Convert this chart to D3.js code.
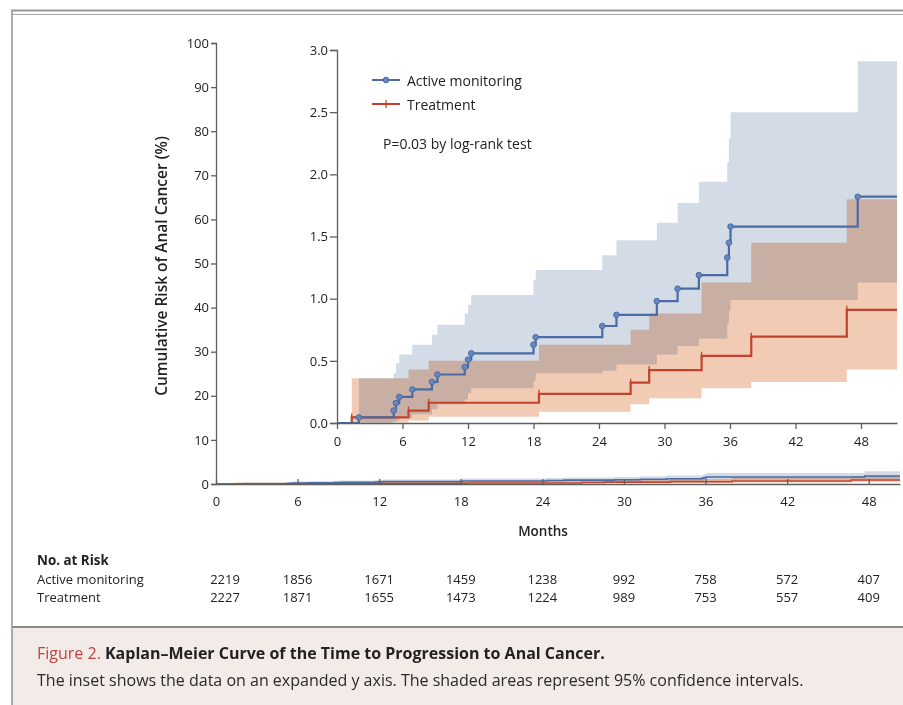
<!DOCTYPE html>
<html>
<head>
<meta charset="utf-8">
<script src="https://cdn.jsdelivr.net/npm/d3@7"></script>
<style>
  body { margin: 0; background: #fff; }
  svg { display: block; }
  .band { mix-blend-mode: multiply; }
</style>
</head>
<body>
<svg id="chart"></svg>
<script>
const W = 903, H = 705;
const FONT = "'Open Sans', 'Noto Sans', sans-serif";
const NUM_FONT = "'Open Sans', 'Noto Sans', sans-serif";

// Active monitoring: step times (months), estimate and 95% CI (%)
const activeTimes = [0, 2.0, 5.2, 5.4, 5.7, 6.9, 8.7, 9.2, 11.7, 12.0, 12.3, 18.0, 18.2, 24.3, 25.6, 29.3, 31.2, 33.15, 35.75, 35.9, 36.05, 47.7];
const activeEst   = [0, 0.045, 0.10, 0.16, 0.21, 0.27, 0.33, 0.39, 0.45, 0.51, 0.56, 0.63, 0.69, 0.78, 0.87, 0.98, 1.08, 1.19, 1.33, 1.45, 1.58, 1.82];
const activeLow   = [0, 0.00, 0.01, 0.02, 0.04, 0.07, 0.11, 0.15, 0.19, 0.24, 0.28, 0.34, 0.40, 0.42, 0.47, 0.55, 0.62, 0.68, 0.80, 0.90, 0.99, 1.13];
const activeHigh  = [0, 0.36, 0.40, 0.48, 0.55, 0.63, 0.71, 0.79, 0.88, 0.95, 1.03, 1.15, 1.23, 1.35, 1.47, 1.61, 1.77, 1.94, 2.10, 2.29, 2.50, 2.91];

// Treatment
const treatTimes = [0, 1.35, 6.55, 8.4, 18.5, 26.9, 28.6, 33.4, 37.95, 46.7];
const treatEst   = [0, 0.045, 0.10, 0.163, 0.235, 0.324, 0.426, 0.54, 0.694, 0.91];
const treatLow   = [0, 0.005, 0.02, 0.05, 0.09, 0.15, 0.20, 0.28, 0.33, 0.43];
const treatHigh  = [0, 0.36, 0.43, 0.50, 0.63, 0.75, 0.88, 1.13, 1.45, 1.80];

// Number at risk
const riskMonths = [0, 6, 12, 18, 24, 30, 36, 42, 48];
const riskActive = [2219, 1856, 1671, 1459, 1238, 992, 758, 572, 407];
const riskTreat  = [2227, 1871, 1655, 1473, 1224, 989, 753, 557, 409];

const outerTicksY = d3.range(0, 101, 10);
const insetTicksY = [0, 0.5, 1.0, 1.5, 2.0, 2.5, 3.0];

const BLUE = "#4a6ba3", RED = "#c2432d";
const BLUE_BAND = "#d3dbe6", RED_BAND = "#f2cbb5";
const INK = "#222";

const svg = d3.select("#chart").attr("width", W).attr("height", H)
  .style("font-family", FONT);

// frame
svg.append("rect").attr("x", 12).attr("y", 628).attr("width", W - 12).attr("height", H - 628)
  .attr("fill", "#f3ebe7");
svg.append("line").attr("x1", 12).attr("x2", W).attr("y1", 627).attr("y2", 627)
  .attr("stroke", "#8a8a8a").attr("stroke-width", 2);
svg.append("line").attr("x1", 11).attr("x2", W).attr("y1", 10.5).attr("y2", 10.5)
  .attr("stroke", "#999").attr("stroke-width", 1.8);
svg.append("line").attr("x1", 11).attr("x2", W).attr("y1", 14.5).attr("y2", 14.5)
  .attr("stroke", "#a8a8a8").attr("stroke-width", 1.2);
svg.append("line").attr("x1", 12).attr("x2", 12).attr("y1", 10).attr("y2", H)
  .attr("stroke", "#999").attr("stroke-width", 1.6);

function rows(times, est, lo, hi, tEnd) {
  const r = times.map((t, i) => ({t, est: est[i], lo: lo[i], hi: hi[i]}));
  r.push({...r[r.length - 1], t: tEnd});
  return r;
}

function drawCurves(g, x, y, lw, marks) {
  const tEnd = x.domain()[1];
  const series = [
    {data: rows(activeTimes, activeEst, activeLow, activeHigh, tEnd), color: BLUE, band: BLUE_BAND, kind: "dot"},
    {data: rows(treatTimes, treatEst, treatLow, treatHigh, tEnd), color: RED, band: RED_BAND, kind: "tick"}
  ];
  const area = d3.area().curve(d3.curveStepAfter)
    .x(d => x(d.t)).y0(d => y(d.lo)).y1(d => y(d.hi));
  const line = d3.line().curve(d3.curveStepAfter).x(d => x(d.t)).y(d => y(d.est));
  series.forEach(s => {
    g.append("path").attr("class", "band").attr("d", area(s.data)).attr("fill", s.band);
  });
  [series[1], series[0]].forEach(s => {
    g.append("path").attr("d", line(s.data)).attr("fill", "none")
      .attr("stroke", s.color).attr("stroke-width", lw);
    if (!marks) return;
    const ev = s.data.slice(1, -1);
    if (s.kind === "dot") {
      g.selectAll(null).data(ev).join("circle")
        .attr("cx", d => x(d.t)).attr("cy", d => y(d.est)).attr("r", 2.8)
        .attr("fill", "#6788bf").attr("stroke", BLUE).attr("stroke-width", 1);
    } else {
      g.selectAll(null).data(ev).join("line")
        .attr("x1", d => x(d.t)).attr("x2", d => x(d.t))
        .attr("y1", d => y(d.est) - 4).attr("y2", d => y(d.est) + 4)
        .attr("stroke", RED).attr("stroke-width", 1.3);
    }
  });
}

function styleAxis(g) {
  g.selectAll("path, line").attr("stroke", "#5e5e5e").attr("stroke-width", 1.3);
  g.selectAll("text").attr("fill", INK).style("font-family", NUM_FONT).style("font-size", "13px");
}

// outer plot
const xOuter = d3.scaleLinear().domain([0, 50.3]).range([216, 900]);
const yOuter = d3.scaleLinear().domain([0, 100]).range([484, 43]);
const outer = svg.append("g");
drawCurves(outer, xOuter, yOuter, 1.6, false);

outer.append("g").attr("transform", `translate(0,${yOuter(0)})`)
  .call(d3.axisBottom(xOuter).tickValues(riskMonths).tickSizeInner(-5).tickSizeOuter(0).tickPadding(13))
  .call(styleAxis);
outer.append("g").attr("transform", `translate(${xOuter(0)},0)`)
  .call(d3.axisLeft(yOuter).tickValues(outerTicksY).tickSize(5).tickPadding(2))
  .call(styleAxis);

svg.append("text").attr("transform", `translate(161,266) rotate(-90)`)
  .attr("text-anchor", "middle").attr("dominant-baseline", "central")
  .style("font-size", "15.5px").style("font-weight", "600").attr("fill", INK)
  .text("Cumulative Risk of Anal Cancer (%)");
svg.append("text").attr("x", 543).attr("y", 531)
  .attr("text-anchor", "middle").attr("dominant-baseline", "central")
  .style("font-size", "13.5px").style("font-weight", "600").attr("fill", INK)
  .text("Months");

// inset plot
const xIn = d3.scaleLinear().domain([0, 51.3]).range([337, 897]);
const yIn = d3.scaleLinear().domain([0, 3]).range([423, 50]);
const inset = svg.append("g");
drawCurves(inset, xIn, yIn, 2.2, true);

inset.append("g").attr("transform", `translate(0,${yIn(0)})`)
  .call(d3.axisBottom(xIn).tickValues(riskMonths).tickSizeInner(6).tickSizeOuter(0).tickPadding(8))
  .call(styleAxis);
inset.append("g").attr("transform", `translate(${xIn(0)},0)`)
  .call(d3.axisLeft(yIn).tickValues(insetTicksY).tickFormat(d3.format(".1f")).tickSize(7).tickPadding(2))
  .call(styleAxis);

// legend
const legend = svg.append("g").attr("transform", "translate(372,0)");
const legendItems = [
  {label: "Active monitoring", color: BLUE, kind: "dot", y: 80},
  {label: "Treatment", color: RED, kind: "tick", y: 104}
];
legendItems.forEach(it => {
  legend.append("line").attr("x1", 0).attr("x2", 28).attr("y1", it.y).attr("y2", it.y)
    .attr("stroke", it.color).attr("stroke-width", 2);
  if (it.kind === "dot") {
    legend.append("circle").attr("cx", 14).attr("cy", it.y).attr("r", 2.8)
      .attr("fill", "#6788bf").attr("stroke", it.color);
  } else {
    legend.append("line").attr("x1", 14).attr("x2", 14).attr("y1", it.y - 4).attr("y2", it.y + 4)
      .attr("stroke", it.color).attr("stroke-width", 1.3);
  }
  legend.append("text").attr("x", 35).attr("y", it.y).attr("dominant-baseline", "central")
    .style("font-size", "14px").attr("fill", INK).text(it.label);
});
svg.append("text").attr("x", 383).attr("y", 143).attr("dominant-baseline", "central")
  .style("font-size", "14px").attr("fill", INK).text("P=0.03 by log-rank test");

// number at risk table
svg.append("text").attr("x", 37).attr("y", 560).attr("dominant-baseline", "central")
  .style("font-size", "13.4px").style("font-weight", "700").attr("fill", INK).text("No. at Risk");
const riskRows = [
  {label: "Active monitoring", values: riskActive, y: 579},
  {label: "Treatment", values: riskTreat, y: 597}
];
riskRows.forEach(r => {
  svg.append("text").attr("x", 37).attr("y", r.y).attr("dominant-baseline", "central")
    .style("font-size", "13px").attr("fill", INK).text(r.label);
  svg.selectAll(null).data(r.values).join("text")
    .attr("x", (d, i) => xOuter(riskMonths[i]) + (i === 0 ? 9 : 0))
    .attr("y", r.y).attr("text-anchor", "middle").attr("dominant-baseline", "central")
    .style("font-family", NUM_FONT).style("font-size", "13px").attr("fill", INK)
    .text(d => d);
});

// caption
const cap = svg.append("text").attr("x", 37).attr("y", 653).attr("dominant-baseline", "central")
  .style("font-size", "16px");
cap.append("tspan").attr("fill", "#c0443f").text("Figure 2. ");
cap.append("tspan").attr("fill", INK).style("font-weight", "700")
  .text("Kaplan\u2013Meier Curve of the Time to Progression to Anal Cancer.");
svg.append("text").attr("x", 37).attr("y", 680).attr("dominant-baseline", "central")
  .style("font-size", "16px").attr("fill", "#2a2a2a")
  .text("The inset shows the data on an expanded y axis. The shaded areas represent 95% confidence intervals.");
</script>
</body>
</html>
